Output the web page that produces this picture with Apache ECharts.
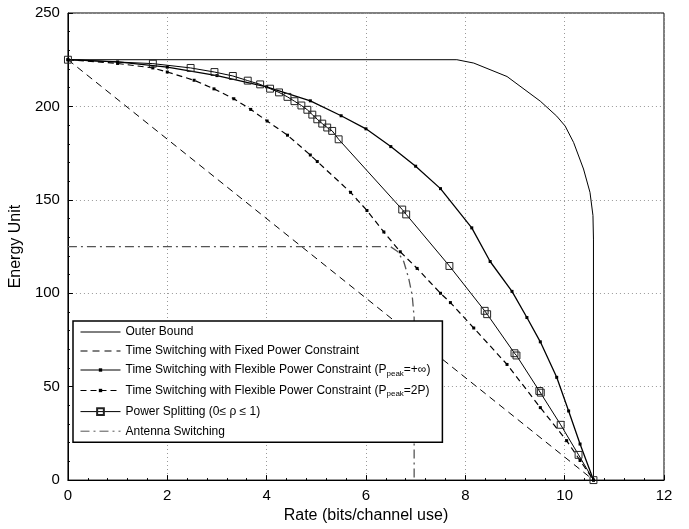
<!DOCTYPE html>
<html>
<head>
<meta charset="utf-8">
<script src="https://cdn.jsdelivr.net/npm/echarts@6/dist/echarts.min.js"></script>
<style>
  html, body { margin: 0; padding: 0; background: #fff; }
  #chart { width: 689px; height: 529px; }
</style>
</head>
<body>
<div id="chart"></div>
<script>
// series values, [rate, energy]
const outerBound = [[0, 225], [7.83, 225], [8.17, 223.2], [8.84, 216], [9.51, 202.8], [9.84, 194.8],
  [10.01, 189.5], [10.18, 180.7], [10.38, 166.5], [10.51, 154], [10.57, 141.6], [10.58, 129], [10.58, 0]]
const tsFixed = [[0, 225], [10.58, 0]]
const tsFlexInf = [[0, 225], [1, 223.8], [2, 221], [3, 216.5], [4, 210.5], [4.88, 203], [5.5, 195],
  [6.0, 188], [6.5, 178.5], [7.0, 168], [7.5, 156], [8.13, 135], [8.5, 117], [8.94, 101], [9.24, 87],
  [9.51, 74], [9.84, 55], [10.08, 37], [10.31, 19.3], [10.58, 0]]
const tsFlex2P = [[0, 225], [1, 223], [1.71, 220.6], [2.0, 218.4], [2.54, 214], [2.94, 209.4],
  [3.34, 204.1], [3.68, 198.4], [4.01, 192.2], [4.42, 184.6], [4.88, 174], [5.02, 170.5], [5.69, 154],
  [6.02, 144.3], [6.36, 132.8], [6.69, 122.2], [7.03, 113.3], [7.5, 100], [7.7, 95], [8.17, 81.4],
  [8.84, 61.9], [9.51, 38.8], [10.04, 21.1], [10.31, 10.5], [10.58, 0]]
const powerSplit = [[0, 225], [1.71, 222.9], [2.47, 220.6], [2.95, 218.4], [3.32, 216.3], [3.62, 213.8],
  [3.87, 211.8], [4.07, 209.5], [4.25, 207.5], [4.42, 205.1], [4.56, 202.8], [4.70, 200.5], [4.82, 198.2],
  [4.92, 195.6], [5.02, 193.1], [5.12, 190.8], [5.22, 188.7], [5.32, 186.9], [5.45, 182.4], [6.73, 144.8],
  [6.81, 142.2], [7.68, 114.6], [8.39, 90.6], [8.44, 88.8], [8.99, 67.9], [9.03, 66.7], [9.49, 47.7],
  [9.52, 46.8], [9.92, 29.6], [10.28, 13.5], [10.58, 0]]
const antennaSwitch = [[0, 125], [6.49, 125], [6.63, 122.5], [6.76, 117], [6.86, 108], [6.93, 99],
  [6.97, 87], [6.97, 0]]

const seriesNames = [
  'Outer Bound',
  'Time Switching with Fixed Power Constraint',
  'Time Switching with Flexible Power Constraint (Ppeak=+∞)',
  'Time Switching with Flexible Power Constraint (Ppeak=2P)',
  'Power Splitting (0≤ ρ ≤ 1)',
  'Antenna Switching'
]
const legendRich = [
  '{n|Outer Bound}',
  '{n|Time Switching with Fixed Power Constraint}',
  '{n|Time Switching with Flexible Power Constraint (P}{s|peak}{n|=+∞)}',
  '{n|Time Switching with Flexible Power Constraint (P}{s|peak}{n|=2P)}',
  '{n|Power Splitting (0≤ ρ ≤ 1)}',
  '{n|Antenna Switching}'
]

// marker shapes: an empty 10x10 box so the legend icon keeps a small mark
const NO_MARK = 'path://M0 0M10 10'
const DOT = 'path://M0 0M10 10M3.5 3.5h3v3h-3z'
const SQUARE = 'path://M0 0M10 10M2 2h6v6h-6z'

const font = 'Liberation Sans, Arial, Helvetica, sans-serif'
const chart = echarts.init(document.getElementById('chart'))

const line = (name, data, lineStyle, extra = {}) => ({
  name, type: 'line', data,
  showSymbol: false, symbol: NO_MARK,
  lineStyle: Object.assign({ color: '#000', width: 1 }, lineStyle),
  itemStyle: { color: '#000' },
  ...extra
})

chart.setOption({
  animation: false,
  backgroundColor: '#fff',
  grid: { left: 67, right: 25, top: 13, bottom: 46, show: true, borderColor: '#000', borderWidth: 1 },
  xAxis: {
    type: 'value', min: 0, max: 12, interval: 2,
    name: 'Rate (bits/channel use)', nameLocation: 'middle', nameGap: 25,
    nameTextStyle: { fontFamily: font, fontSize: 16, color: '#000' },
    axisLine: { show: true, lineStyle: { color: '#000' } },
    axisTick: { show: true, inside: true, length: 5, lineStyle: { color: '#000' } },
    minorTick: { show: true, splitNumber: 5, length: 2, lineStyle: { color: '#000' } },
    axisLabel: { fontFamily: font, fontSize: 15, color: '#000', margin: 8 },
    splitLine: { show: true, lineStyle: { type: [1, 3], color: '#999' } }
  },
  yAxis: {
    type: 'value', min: 0, max: 250, interval: 50,
    name: 'Energy Unit', nameLocation: 'middle', nameGap: 34,
    nameTextStyle: { fontFamily: font, fontSize: 16, color: '#000' },
    axisLine: { show: true, lineStyle: { color: '#000' } },
    axisTick: { show: true, inside: true, length: 5, lineStyle: { color: '#000' } },
    minorTick: { show: true, splitNumber: 5, length: 2, lineStyle: { color: '#000' } },
    axisLabel: { fontFamily: font, fontSize: 15, color: '#000', margin: 8 },
    splitLine: { show: true, lineStyle: { type: [1, 3], color: '#999' } }
  },
  legend: {
    orient: 'vertical', left: 73, top: 321,
    data: seriesNames,
    backgroundColor: '#fff', borderColor: '#000', borderWidth: 1.5,
    padding: [5, 12, 5, 7], itemGap: 7, itemWidth: 40, itemHeight: 14,
    lineStyle: { width: 1 },
    formatter: name => legendRich[seriesNames.indexOf(name)],
    textStyle: {
      fontFamily: font, fontSize: 12, color: '#000',
      rich: {
        n: { fontFamily: font, fontSize: 12, color: '#000' },
        s: { fontFamily: font, fontSize: 8, color: '#000', padding: [7, 0, 0, 0] }
      }
    }
  },
  series: [
    line(seriesNames[0], outerBound, { width: 1 }),
    line(seriesNames[1], tsFixed, { type: [7, 5], width: 1 }),
    line(seriesNames[2], tsFlexInf, { width: 1.3 },
      { showSymbol: true, symbol: DOT, symbolSize: 10 }),
    line(seriesNames[3], tsFlex2P, { type: [6, 4], width: 1.2 },
      { showSymbol: true, symbol: DOT, symbolSize: 10 }),
    line(seriesNames[4], powerSplit, { width: 1 },
      { showSymbol: true, symbol: SQUARE, symbolSize: 11.5,
        itemStyle: { color: 'rgba(255,255,255,0)', borderColor: '#222', borderWidth: 1 } }),
    line(seriesNames[5], antennaSwitch, { type: [9, 4, 2, 4], width: 1.3, color: '#555' },
      { itemStyle: { color: '#555' } })
  ]
})
</script>
</body>
</html>
